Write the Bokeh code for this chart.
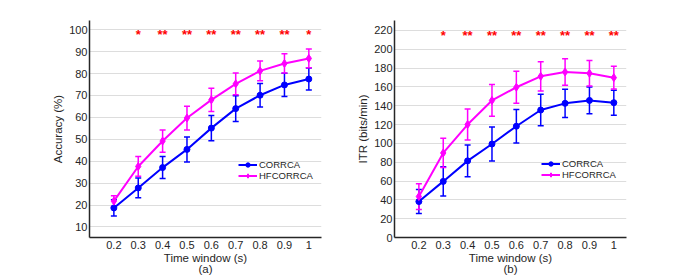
from bokeh.plotting import figure
from bokeh.models import (Range1d, FixedTicker, Whisker, ColumnDataSource, Legend,
                          LegendItem, TeeHead, NumeralTickFormatter)
from bokeh.layouts import row
from bokeh.embed import file_html
from bokeh.resources import INLINE
from bokeh.core.properties import value

# ---------------- data ----------------
time_windows = [0.2, 0.3, 0.4, 0.5, 0.6, 0.7, 0.8, 0.9, 1.0]

acc_corrca = [18.7, 27.8, 37.1, 45.4, 55.1, 64.0, 70.1, 74.8, 77.5]
acc_corrca_sd = [3.7, 4.5, 5.0, 5.7, 5.8, 5.9, 5.4, 5.3, 5.0]
acc_hf = [21.8, 37.6, 49.2, 59.7, 68.0, 75.3, 81.2, 84.6, 86.9]
acc_hf_sd = [2.5, 4.5, 5.1, 5.4, 5.3, 5.0, 4.5, 4.4, 4.3]

itr_corrca = [38.2, 59.6, 81.4, 99.3, 118.2, 135.4, 142.5, 145.6, 143.2]
itr_corrca_sd = [12.8, 15.5, 16.8, 18.0, 17.7, 16.7, 15.0, 14.2, 13.3]
itr_hf = [43.5, 89.8, 120.0, 145.6, 159.6, 171.2, 175.8, 174.4, 169.8]
itr_hf_sd = [13.7, 15.5, 16.5, 16.8, 17.0, 15.6, 14.2, 13.5, 12.0]

sig_acc = ["", "*", "**", "**", "**", "**", "**", "**", "*"]
sig_itr = ["", "*", "**", "**", "**", "**", "**", "**", "**"]

acc_ticks = [10, 20, 30, 40, 50, 60, 70, 80, 90, 100]
itr_ticks = [0, 20, 40, 60, 80, 100, 120, 140, 160, 180, 200, 220]

series_names = ["CORRCA", "HFCORRCA"]
x_label = "Time window (s)"
panel_tags = ["(a)", "(b)"]

# ---------------- style ----------------
FONT = "Liberation Sans"
TXT = "#262626"
BLUE = "#0000ff"
MAG = "#ff00ff"
FIG_W = 346
FIG_H = 277
TOP = 20
FRAME_H = 219


def make_panel(ylabel, ticks, yr, ys, sig, sig_y, panel_tag, borders, legend_xy):
    left, right = borders
    p = figure(width=FIG_W, height=FIG_H, output_backend="svg", toolbar_location=None,
               x_range=Range1d(0.1, 1.052), y_range=Range1d(*yr),
               min_border_left=left, min_border_right=right,
               min_border_top=TOP, min_border_bottom=FIG_H - TOP - FRAME_H)
    p.outline_line_color = None
    p.background_fill_color = "white"
    p.border_fill_color = "white"
    p.xgrid.grid_line_color = None
    p.ygrid.grid_line_color = "#dddddd"
    p.ygrid.grid_line_width = 1

    for ax in (p.xaxis[0], p.yaxis[0]):
        ax.axis_line_color = TXT
        ax.axis_line_width = 1.5
        ax.major_tick_line_color = None
        ax.minor_tick_line_color = None
        ax.major_tick_out = 0
        ax.major_tick_in = 0
        ax.major_label_text_font = FONT
        ax.major_label_text_font_size = "11px"
        ax.major_label_text_color = TXT
        ax.axis_label_text_font = FONT
        ax.axis_label_text_font_size = "11.5px"
        ax.axis_label_text_font_style = "normal"
        ax.axis_label_text_color = TXT

    p.xaxis.ticker = FixedTicker(ticks=time_windows)
    p.xaxis.formatter = NumeralTickFormatter(format="0.[0]")
    p.xaxis.major_label_standoff = 3
    p.xaxis.axis_label = x_label + "\n" + panel_tag
    p.xaxis.axis_label_standoff = 0
    p.xaxis.axis_label_text_line_height = 0.95
    p.yaxis.ticker = FixedTicker(ticks=ticks)
    p.yaxis.major_label_standoff = 2
    p.yaxis.axis_label = ylabel
    p.yaxis.axis_label_standoff = 2

    items = []
    for name, vals, sds, color, marker, msize in [
        (series_names[0], ys[0], ys[1], BLUE, "circle", 6),
        (series_names[1], ys[2], ys[3], MAG, "diamond", 8),
    ]:
        src = ColumnDataSource(dict(
            x=time_windows, y=vals,
            lo=[v - s for v, s in zip(vals, sds)],
            hi=[v + s for v, s in zip(vals, sds)]))
        w = Whisker(source=src, base="x", lower="lo", upper="hi",
                    line_color=color, line_width=1.5,
                    upper_head=TeeHead(size=6, line_color=color, line_width=1.5),
                    lower_head=TeeHead(size=6, line_color=color, line_width=1.5))
        p.add_layout(w)
        lr = p.line("x", "y", source=src, line_color=color, line_width=2)
        sr = p.scatter("x", "y", source=src, marker=marker, size=msize,
                       fill_color=color, line_color=color)
        items.append(LegendItem(label=name, renderers=[lr, sr]))

    # significance stars
    ssrc = ColumnDataSource(dict(x=time_windows, y=[sig_y] * len(time_windows), t=sig))
    p.text("x", "y", text="t", source=ssrc, text_color="#ff0000",
           text_font=value(FONT), text_font_size="13px", text_font_style="bold",
           text_align="center", text_baseline="middle")

    leg = Legend(items=items, location=legend_xy, orientation="vertical",
                 glyph_width=19, glyph_height=11, label_height=11, label_width=10,
                 label_standoff=2, spacing=0, padding=0, margin=0,
                 border_line_color=None, background_fill_alpha=0,
                 label_text_font=FONT, label_text_font_size="9.5px",
                 label_text_color=TXT)
    p.add_layout(leg)
    return p


pa = make_panel("Accuracy (%)", acc_ticks, (5.2, 104.2),
                (acc_corrca, acc_corrca_sd, acc_hf, acc_hf_sd),
                sig_acc, 97.8, panel_tags[0], (89, 25), (149, 56))
pb = make_panel("ITR (bits/min)", itr_ticks, (0, 230.5),
                (itr_corrca, itr_corrca_sd, itr_hf, itr_hf_sd),
                sig_itr, 214.5, panel_tags[1], (48, 66), (147, 57))

layout = row(pa, pb)
open("out.html", "w").write(file_html(layout, INLINE))
